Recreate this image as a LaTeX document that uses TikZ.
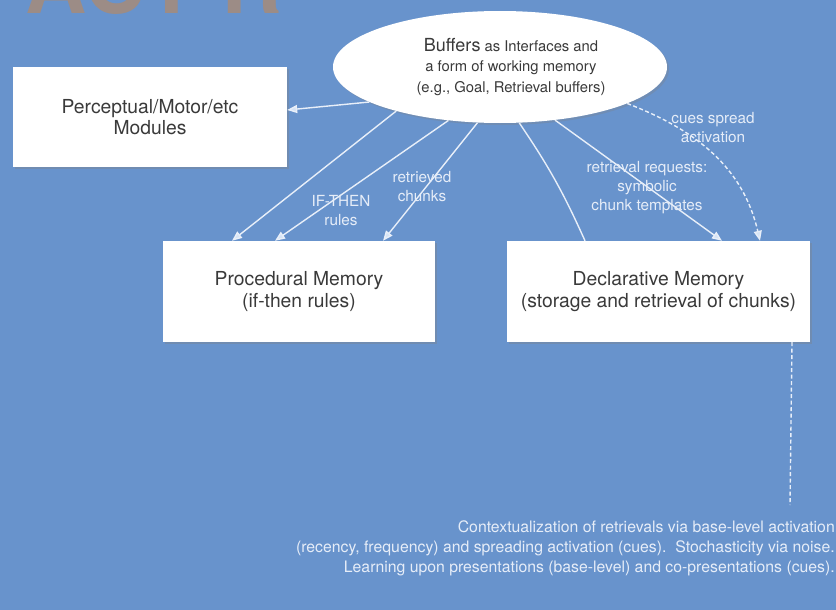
\documentclass[tikz,border=0pt]{standalone}
\usepackage{fontspec}
\setmainfont{TeX Gyre Heros}
\usetikzlibrary{arrows.meta,shapes.geometric,shadows}
\definecolor{bgblue}{RGB}{104,147,204}
\definecolor{linecol}{RGB}{232,239,249}
\definecolor{tipcol}{RGB}{214,228,246}
\definecolor{labcol}{RGB}{230,237,248}
\definecolor{boxtext}{RGB}{58,58,58}
\definecolor{titlecol}{RGB}{156,140,134}
\tikzset{
  membox/.style={draw=none, fill=white, text=boxtext, align=center,
    drop shadow={opacity=0.35, shadow xshift=2pt, shadow yshift=-2pt},
    font=\fontsize{19.3}{21.5}\selectfont},
  conn/.style={draw=linecol, line width=1.4pt},
  arr/.style={conn, -{Triangle[width=8pt,length=10pt,fill=tipcol]}},
  dconn/.style={draw=linecol, line width=1.4pt, dash pattern=on 4pt off 2.5pt},
  lab/.style={text=labcol, align=center, font=\fontsize{15.3}{19}\selectfont},
}
\begin{document}
\begin{tikzpicture}[x=1pt,y=-1pt]
\useasboundingbox (0,0) rectangle (836,610);
\clip (0,0) rectangle (836,610);
\fill[bgblue] (0,0) rectangle (836,610);
\node[anchor=base west, text=titlecol, font=\bfseries\fontsize{85}{85}\selectfont] (title) at (22,14) {ACT-R};

\node[ellipse, fill=white, minimum width=334pt, minimum height=112pt, inner sep=0pt,
  drop shadow={opacity=0.3, shadow xshift=2pt, shadow yshift=-2pt}] (buf) at (500,67) {};
\node[text=boxtext, align=center, font=\fontsize{14.8}{20.5}\selectfont] (buftext) at (511,67)
  {{\fontsize{18}{20.5}\selectfont Buffers} as Interfaces and\\a form of working memory\\(e.g., Goal, Retrieval buffers)};

\node[membox, minimum width=274pt, minimum height=100pt] (perc) at (150,117) {Perceptual/Motor/etc\\Modules};
\node[membox, minimum width=272pt, minimum height=101pt] (proc) at (299,291.5) {Procedural Memory\\(if-then rules)};
\node[membox, minimum width=303pt, minimum height=101pt] (decl) at (658.5,291.5) {Declarative Memory\\(storage and retrieval of chunks)};

\draw[arr] (buf.195) -- ([yshift=7pt]perc.east);
\draw[arr] (buf.203) -- ([xshift=-67pt]proc.north);
\draw[arr] (buf.226) -- ([xshift=-24pt]proc.north);
\draw[arr] (buf.248) -- ([xshift=84pt]proc.north);
\draw[conn] (buf.289) to[bend left=5] ([xshift=-73.5pt]decl.north);
\draw[arr] (buf.316) -- ([xshift=63.5pt]decl.north);
\draw[dconn, -{Triangle[width=8pt,length=10pt,fill=tipcol]}] (buf.344) to[out=-21,in=103] ([xshift=101.5pt]decl.north);
\coordinate (dend) at (790,505);
\draw[dconn] ([xshift=133.5pt]decl.south) -- (dend);

\node[lab] (l1) at (341,211) {IF-THEN\\rules};
\node[lab] (l2) at (422,187) {retrieved\\chunks};
\node[lab] (l3) at (647,188) {retrieval requests:\\symbolic\\chunk templates};
\node[lab] (l4) at (713,128) {cues spread\\activation};

\node[text=labcol, align=right, anchor=east, inner sep=0pt, font=\fontsize{15.8}{20}\selectfont] (note) at (835,548)
  {Contextualization of retrievals via base-level activation\\(recency, frequency) and spreading activation (cues).\ \ Stochasticity via noise.\\Learning upon presentations (base-level) and co-presentations (cues).};
\end{tikzpicture}
\end{document}
